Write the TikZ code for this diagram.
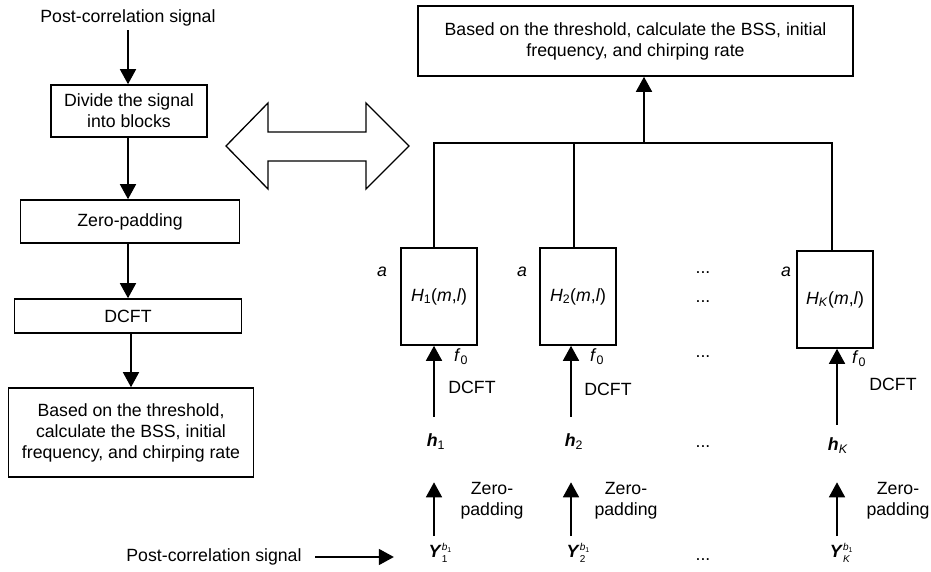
\documentclass[tikz,border=0pt]{standalone}
\usepackage{fontspec}
\setmainfont{Liberation Sans}
\usetikzlibrary{arrows.meta}
\newcommand{\bfit}[1]{\textbf{\textit{#1}}}
\newcommand{\Ysym}[1]{\bfit{Y}\makebox[0pt][l]{\raisebox{7pt}{\fontsize{10}{10}\selectfont\textit{b}\raisebox{-2pt}{\fontsize{7}{7}\selectfont 1}}}\raisebox{-4.5pt}{\fontsize{10}{10}\selectfont #1}}
\begin{document}
\begin{tikzpicture}[x=1pt,y=-1pt,
  font=\fontsize{17.7}{21}\selectfont,
  line width=1.6pt,
  box/.style={draw, align=center, inner sep=0pt},
  arr/.style={-{Triangle[length=15pt,width=16pt]}},
  lbl/.style={inner sep=0pt, align=center, text height=13pt, text depth=4pt},
  dbl/.style={line width=1.3pt, line join=miter}]
\useasboundingbox (0,0) rectangle (931,572);

% ---------- left flow ----------
\node[lbl] (ptop) at (128,18) {Post-correlation signal};
\node[box, minimum width=156pt, minimum height=52pt] (b1) at (129,111) {Divide the signal\\into blocks};
\node[box, minimum width=219pt, minimum height=43pt] (b2) at (130,221.5) {Zero-padding};
\node[box, minimum width=227pt, minimum height=34pt] (b3) at (128,316) {DCFT};
\node[box, minimum width=245pt, minimum height=89pt] (b4) at (131,432.5) {Based on the threshold,\\calculate the BSS, initial\\frequency, and chirping rate};

\coordinate (x1) at (128,0);
\coordinate (x2) at (131,0);
\draw[arr, shorten <=3pt] (x1 |- ptop.south) -- (x1 |- b1.north);
\draw[arr] (x1 |- b1.south) -- (x1 |- b2.north);
\draw[arr] (x1 |- b2.south) -- (x1 |- b3.north);
\draw[arr] (x2 |- b3.south) -- (x2 |- b4.north);

% ---------- double arrow ----------
\draw[dbl] (226,146) -- (268,103) -- (268,132) -- (366,132) -- (366,103) -- (409,146)
  -- (366,189) -- (366,161) -- (268,161) -- (268,189) -- cycle;

% ---------- right side ----------
\node[box, minimum width=435pt, minimum height=70pt] (top) at (635.5,41) {Based on the threshold, calculate the BSS, initial\\frequency, and chirping rate};

\node[box, minimum width=76pt, minimum height=97pt] (H1) at (439,296.5) {\raisebox{-5pt}{\textit{H}\textsubscript{1}(\textit{m},\textit{l})}};
\node[box, minimum width=76pt, minimum height=97pt] (H2) at (578,296.5) {\raisebox{-5pt}{\textit{H}\textsubscript{2}(\textit{m},\textit{l})}};
\node[box, minimum width=76pt, minimum height=97pt] (HK) at (835,299.5) {\raisebox{-3pt}{\textit{H}\textsubscript{\textit{K}}(\textit{m},\textit{l})}};

\coordinate (j1) at (434,143);
\coordinate (j2) at (574,143);
\coordinate (jK) at (832,143);
\coordinate (jt) at (644,143);
\draw (j1 |- H1.north) -- (j1) -- (jK) -- (jK |- HK.north);
\draw (j2) -- (j2 |- H2.north);
\draw[arr] (jt) -- (jt |- top.south);

% column x positions for the lower arrows
\coordinate (k1) at (434,0);
\coordinate (k2) at (571,0);
\coordinate (kK) at (837,0);

% labels a, f0, DCFT
\node[lbl] (a1) at (382,272) {\textit{a}};
\node[lbl] (a2) at (522,272) {\textit{a}};
\node[lbl] (aK) at (786,272) {\textit{a}};
\node[lbl] (f1) at (461,357) {\textit{f}\textsubscript{0}};
\node[lbl] (f2) at (597,357) {\textit{f}\textsubscript{0}};
\node[lbl] (fK) at (859,359) {\textit{f}\textsubscript{0}};
\node[lbl] (d1) at (472,389) {DCFT};
\node[lbl] (d2) at (608,391) {DCFT};
\node[lbl] (dK) at (893,386) {DCFT};

% h nodes
\node[lbl] (h1) at (436,442) {\bfit{h}\textsubscript{1}};
\node[lbl] (h2) at (574,442) {\bfit{h}\textsubscript{2}};
\node[lbl] (hK) at (838,446) {\bfit{h}\textsubscript{\textit{K}}};

\draw[arr, shorten <=16pt] (k1 |- h1.north) -- (k1 |- H1.south);
\draw[arr, shorten <=16pt] (k2 |- h2.north) -- (k2 |- H2.south);
\draw[arr, shorten <=12pt] (kK |- hK.north) -- (kK |- HK.south);

% Y nodes
\node[lbl] (Y1) at (438,553) {\Ysym{1}};
\node[lbl] (Y2) at (576,553) {\Ysym{2}};
\node[lbl] (YK) at (840,553) {\Ysym{\textit{K}}};

\draw[arr, shorten <=7.5pt, shorten >=31pt] (k1 |- Y1.north) -- (k1 |- h1.south);
\draw[arr, shorten <=7.5pt, shorten >=31pt] (k2 |- Y2.north) -- (k2 |- h2.south);
\draw[arr, shorten <=7.5pt, shorten >=27pt] (kK |- YK.north) -- (kK |- hK.south);

% zero-padding labels
\node[lbl] (z1) at (492,511) {Zero-\\padding};
\node[lbl] (z2) at (626,511) {Zero-\\padding};
\node[lbl] (zK) at (898,511) {Zero-\\padding};

% dots
\node[lbl] (e1) at (703,268.5) {...};
\node[lbl] (e2) at (703,297.5) {...};
\node[lbl] (e3) at (703,352.5) {...};
\node[lbl] (e4) at (703,442.5) {...};
\node[lbl] (e5) at (703,555.5) {...};

% bottom input
\node[lbl] (pbot) at (214,557) {Post-correlation signal};
\draw[arr, shorten <=13pt, shorten >=34pt] (pbot.east) -- (pbot.east -| Y1.west);
\end{tikzpicture}
\end{document}
